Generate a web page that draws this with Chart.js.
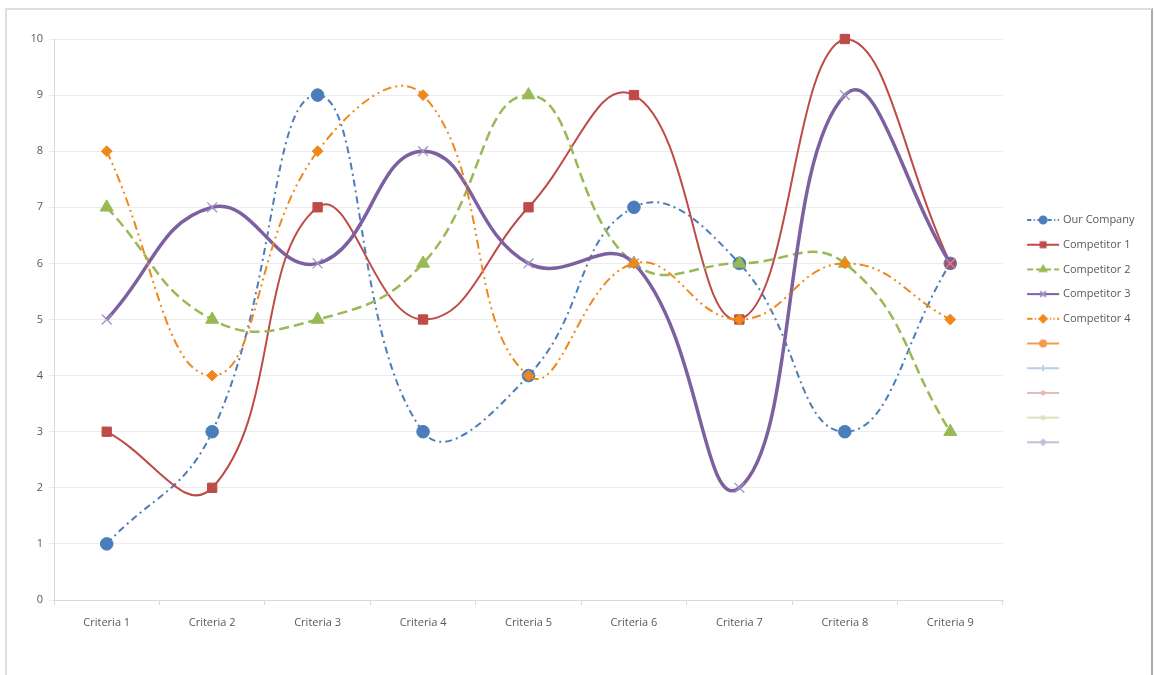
<!DOCTYPE html>
<html>
<head>
<meta charset="utf-8">
<title>Criteria comparison</title>
<script src="https://cdn.jsdelivr.net/npm/chart.js@4/dist/chart.umd.min.js"></script>
<style>
  html, body { margin: 0; padding: 0; background: #ffffff; overflow: hidden; }
  #frame {
    position: absolute; left: 5px; top: 8px; width: 1144px; height: 720px;
    border: 2px solid #dedede; border-right: 2px solid #a9a9a9;
  }
  #c { position: absolute; left: 0; top: 0; }
</style>
</head>
<body>
<div id="frame"></div>
<canvas id="c" width="1154" height="675"></canvas>
<script>
// Categories and scores (0–10)
const categories = ['Criteria 1', 'Criteria 2', 'Criteria 3', 'Criteria 4', 'Criteria 5',
                    'Criteria 6', 'Criteria 7', 'Criteria 8', 'Criteria 9'];
const seriesNames = ['Our Company', 'Competitor 1', 'Competitor 2', 'Competitor 3', 'Competitor 4'];
const ourCompany   = [1, 3, 9, 3, 4, 7, 6, 3, 6];
const competitor1  = [3, 2, 7, 5, 7, 9, 5, 10, 6];
const competitor2  = [7, 5, 5, 6, 9, 6, 6, 6, 3];
const competitor3  = [5, 7, 6, 8, 6, 6, 2, 9, 6];
const competitor4  = [8, 4, 8, 9, 4, 6, 5, 6, 5];
const yTicks = [0, 1, 2, 3, 4, 5, 6, 7, 8, 9, 10];

const FONT = "'Open Sans', 'Noto Sans', sans-serif";
const TEXT = '#595959';

// Visual style of each series
const styles = [
  { color: '#4A7EBB', width: 2,   dash: [7, 4, 2, 4],        point: 'circle',   radius: 6.3, pColor: '#4A7EBB', pBorder: 1 },
  { color: '#BE4B48', width: 2,   dash: [],                  point: 'rect',     radius: 6.6, pColor: '#BE4B48', pBorder: 1 },
  { color: '#98B954', width: 2.5, dash: [10, 5],             point: 'triangle', radius: 7.5, pColor: '#98B954', pBorder: 1 },
  { color: '#7D60A0', width: 3.5, dash: [],                  point: 'crossRot', radius: 7,   pColor: '#A393C4', pBorder: 1.3 },
  { color: '#F0871A', width: 2,   dash: [9, 4, 2, 4, 2, 4],  point: 'rectRot',  radius: 5.4, pColor: '#F0871A', pBorder: 1 }
];
const values = [ourCompany, competitor1, competitor2, competitor3, competitor4];

// Extra empty legend entries (unnamed series)
const blankEntries = [
  { color: '#F39A4C', point: 'circle',   radius: 3 },
  { color: '#B9CDE5', point: 'cross',    radius: 3 },
  { color: '#E6B9B8', point: 'circle',   radius: 1.5 },
  { color: '#D7E4BD', point: 'circle',   radius: 1.5 },
  { color: '#C7BBDA', point: 'rectRot',  radius: 2.5 }
];

// Legend icon: a short line sample with the marker in the middle
const ICON_W = 56, ICON_H = 16, LINE_X0 = 18, LINE_X1 = 50;
function makeIcon(color, width, dash, point, radius, pColor) {
  const cv = document.createElement('canvas');
  cv.width = ICON_W; cv.height = ICON_H;
  const ctx = cv.getContext('2d');
  const cy = ICON_H / 2;
  ctx.strokeStyle = color;
  ctx.lineWidth = width;
  ctx.setLineDash(dash);
  ctx.beginPath();
  ctx.moveTo(LINE_X0, cy);
  ctx.lineTo(LINE_X1, cy);
  ctx.stroke();
  ctx.setLineDash([]);
  ctx.fillStyle = pColor;
  ctx.strokeStyle = pColor;
  Chart.helpers.drawPoint(ctx, { pointStyle: point, radius: radius, rotation: 0, borderWidth: 1.2 },
                          (LINE_X0 + LINE_X1) / 2, cy);
  return cv;
}

const datasets = values.map((vals, i) => {
  const s = styles[i];
  return {
    label: seriesNames[i],
    data: vals,
    borderColor: s.color,
    borderWidth: s.width,
    borderDash: s.dash,
    borderCapStyle: 'butt',
    tension: 0.45,
    fill: false,
    clip: false,
    pointStyle: s.point,
    pointRadius: s.radius,
    pointBackgroundColor: s.pColor,
    pointBorderColor: s.pColor,
    pointBorderWidth: s.pBorder,
    order: values.length - i,
    icon: makeIcon(s.color, Math.min(s.width, 2), s.dash.length ? s.dash.map(d => d * 0.6) : [],
                   s.point, s.point === 'crossRot' ? 4 : 3.5, s.pColor)
  };
});
blankEntries.forEach(b => {
  datasets.push({
    label: '',
    data: [],
    borderColor: b.color,
    borderWidth: 2,
    pointStyle: b.point,
    order: 10,
    icon: makeIcon(b.color, 2, [], b.point, b.radius, b.color)
  });
});

// Fixed legend column width, and its items centred a little above the page middle
const legendPlacement = {
  id: 'legendPlacement',
  beforeUpdate(chart) {
    const lg = chart.legend;
    if (lg && !lg.__fixed) {
      const fit = lg.fit.bind(lg);
      lg.fit = function () { fit(); this.width = 151; };
      lg.__fixed = true;
    }
  },
  afterLayout(chart) {
    const lg = chart.legend;
    if (lg) { lg.bottom = 623.3; lg.height = lg.bottom - lg.top; }
  }
};

new Chart(document.getElementById('c'), {
  type: 'line',
  data: { labels: categories, datasets: datasets },
  options: {
    responsive: false,
    animation: false,
    events: [],
    layout: { padding: { top: 39, left: 0, right: 0, bottom: 43 } },
    plugins: {
      tooltip: { enabled: false },
      legend: {
        position: 'right',
        align: 'center',
        labels: {
          usePointStyle: true,
          pointStyleWidth: 40.8,
          padding: 13.7,
          color: TEXT,
          font: { family: FONT, size: 11 },
          generateLabels(chart) {
            return chart.data.datasets.map((ds, i) => ({
              text: ds.label,
              pointStyle: ds.icon,
              fillStyle: 'transparent',
              strokeStyle: 'transparent',
              lineWidth: 0,
              hidden: false,
              datasetIndex: i,
              fontColor: TEXT
            }));
          }
        }
      }
    },
    scales: {
      x: {
        type: 'category',
        offset: true,
        grid: { display: true, drawOnChartArea: false, drawTicks: true, tickLength: 5, offset: true, color: '#d9d9d9' },
        border: { display: true, color: '#d9d9d9', width: 1 },
        ticks: { color: TEXT, font: { family: FONT, size: 11 }, padding: 11, maxRotation: 0, autoSkip: false },
        afterFit(scale) { scale.height = 32; }
      },
      y: {
        min: 0,
        max: 10,
        afterBuildTicks(scale) { scale.ticks = yTicks.map(v => ({ value: v })); },
        grid: { color: '#ececec', lineWidth: 1, drawTicks: true, tickLength: 5 },
        border: { display: true, color: '#d9d9d9', width: 1 },
        ticks: { color: TEXT, font: { family: FONT, size: 11 }, padding: 6 },
        afterFit(scale) { scale.width = 54; }
      }
    }
  },
  plugins: [legendPlacement]
});
</script>
</body>
</html>
